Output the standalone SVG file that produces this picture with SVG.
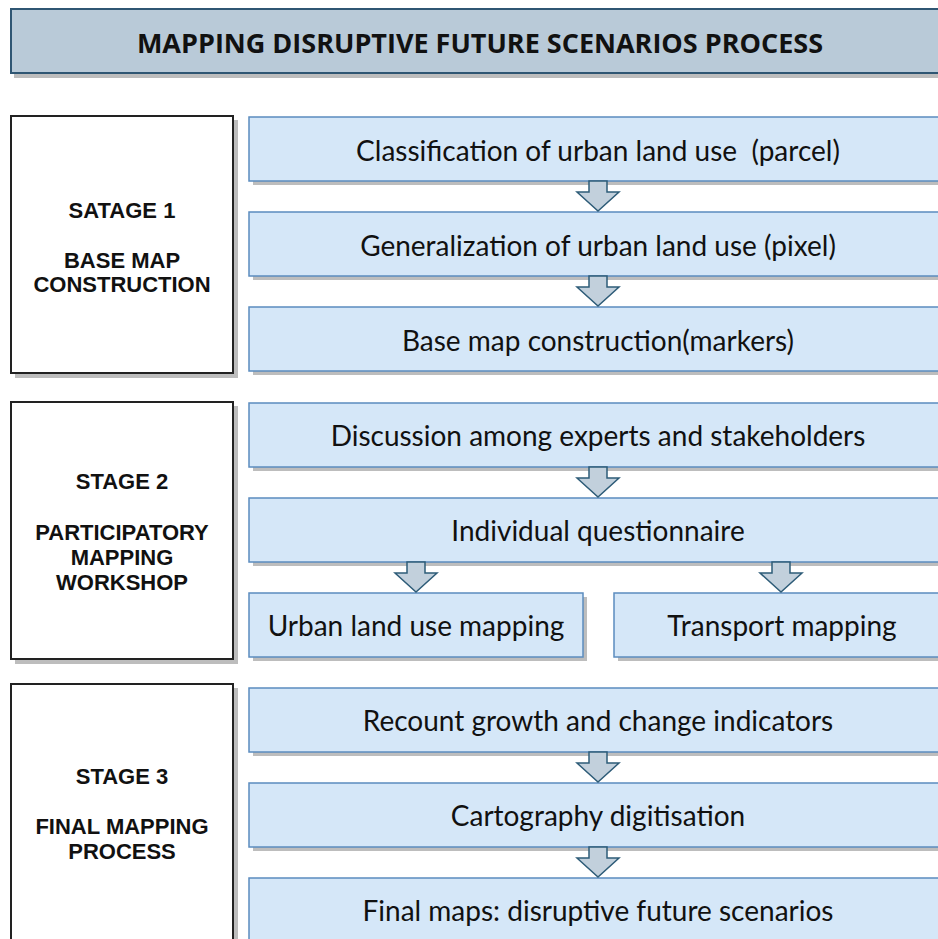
<svg xmlns="http://www.w3.org/2000/svg" width="938" height="939" viewBox="0 0 938 939">
<defs>
<style>
.title{fill:#b9cad8;stroke:#2f5673;stroke-width:2}
.shadow{fill:#bdbdbd}
.stage{fill:#ffffff;stroke:#222;stroke-width:2}
.step{fill:#d5e7f8;stroke:#5b8cbf;stroke-width:1.5}
.arrow{fill:#c2d0dc;stroke:#2e5c78;stroke-width:1.5;stroke-linejoin:miter}
.tt{font-family:"Open Sans","Liberation Sans",sans-serif;font-weight:bold;font-size:27px;fill:#111;text-anchor:middle}
.st{font-family:"Liberation Sans",Arial,sans-serif;font-weight:bold;font-size:22px;fill:#111;text-anchor:middle}
.bt{font-family:"Lato","Open Sans",sans-serif;font-size:28px;fill:#111;text-anchor:middle;white-space:pre}
</style>
<path id="arr" d="M-9,0 H9 V11 H21 L0,30 L-21,11 H-9 Z"/>
</defs>
<rect x="0" y="0" width="938" height="939" fill="#ffffff"/>
<g id="title">
<rect class="shadow" x="14" y="73" width="930" height="5"/>
<rect class="title" x="11" y="9" width="935" height="64"/>
<text class="tt" x="480" y="53">MAPPING DISRUPTIVE FUTURE SCENARIOS PROCESS</text>
</g>
<g id="stage1">
<rect class="shadow" x="15" y="120" width="223" height="258"/>
<rect class="stage" x="11" y="116" width="222" height="257"/>
<text class="st" x="122" y="218">SATAGE 1</text>
<text class="st" x="122" y="268">BASE MAP</text>
<text class="st" x="122" y="292">CONSTRUCTION</text>
</g>
<g id="stage2">
<rect class="shadow" x="15" y="406" width="223" height="258"/>
<rect class="stage" x="11" y="402" width="222" height="257"/>
<text class="st" x="122" y="489">STAGE 2</text>
<text class="st" x="122" y="540">PARTICIPATORY</text>
<text class="st" x="122" y="565">MAPPING</text>
<text class="st" x="122" y="590">WORKSHOP</text>
</g>
<g id="stage3">
<rect class="shadow" x="15" y="688" width="223" height="258"/>
<rect class="stage" x="11" y="684" width="222" height="260"/>
<text class="st" x="122" y="784">STAGE 3</text>
<text class="st" x="122" y="834">FINAL MAPPING</text>
<text class="st" x="122" y="859">PROCESS</text>
</g>
<g id="s1a"><rect class="shadow" x="253" y="121" width="700" height="64"/><rect class="step" x="249" y="117" width="700" height="64"/><text class="bt" x="598" y="161" xml:space="preserve">Classification of urban land use  (parcel)</text></g>
<g id="s1b"><rect class="shadow" x="253" y="216" width="700" height="64"/><rect class="step" x="249" y="212" width="700" height="64"/><text class="bt" x="598" y="256">Generalization of urban land use (pixel)</text></g>
<g id="s1c"><rect class="shadow" x="253" y="311" width="700" height="64"/><rect class="step" x="249" y="307" width="700" height="64"/><text class="bt" x="598" y="351">Base map construction(markers)</text></g>
<g id="s2a"><rect class="shadow" x="253" y="407" width="700" height="64"/><rect class="step" x="249" y="403" width="700" height="64"/><text class="bt" x="598" y="446">Discussion among experts and stakeholders</text></g>
<g id="s2b"><rect class="shadow" x="253" y="502" width="700" height="64"/><rect class="step" x="249" y="498" width="700" height="64"/><text class="bt" x="598" y="541">Individual questionnaire</text></g>
<g id="s2c"><rect class="shadow" x="253" y="597" width="334" height="64"/><rect class="step" x="249" y="593" width="334" height="64"/><text class="bt" x="416" y="636">Urban land use mapping</text></g>
<g id="s2d"><rect class="shadow" x="618" y="597" width="340" height="64"/><rect class="step" x="614" y="593" width="340" height="64"/><text class="bt" x="782" y="636">Transport mapping</text></g>
<g id="s3a"><rect class="shadow" x="253" y="692" width="700" height="64"/><rect class="step" x="249" y="688" width="700" height="64"/><text class="bt" x="598" y="731">Recount growth and change indicators</text></g>
<g id="s3b"><rect class="shadow" x="253" y="787" width="700" height="64"/><rect class="step" x="249" y="783" width="700" height="64"/><text class="bt" x="598" y="826">Cartography digitisation</text></g>
<g id="s3c"><rect class="shadow" x="253" y="882" width="700" height="64"/><rect class="step" x="249" y="878" width="700" height="64"/><text class="bt" x="598" y="921">Final maps: disruptive future scenarios</text></g>
<g id="connectors">
<use href="#arr" class="arrow" x="598" y="181"/>
<use href="#arr" class="arrow" x="598" y="276"/>
<use href="#arr" class="arrow" x="598" y="467"/>
<use href="#arr" class="arrow" x="416" y="562"/>
<use href="#arr" class="arrow" x="781" y="562"/>
<use href="#arr" class="arrow" x="598" y="752"/>
<use href="#arr" class="arrow" x="598" y="847"/>
</g>
</svg>
